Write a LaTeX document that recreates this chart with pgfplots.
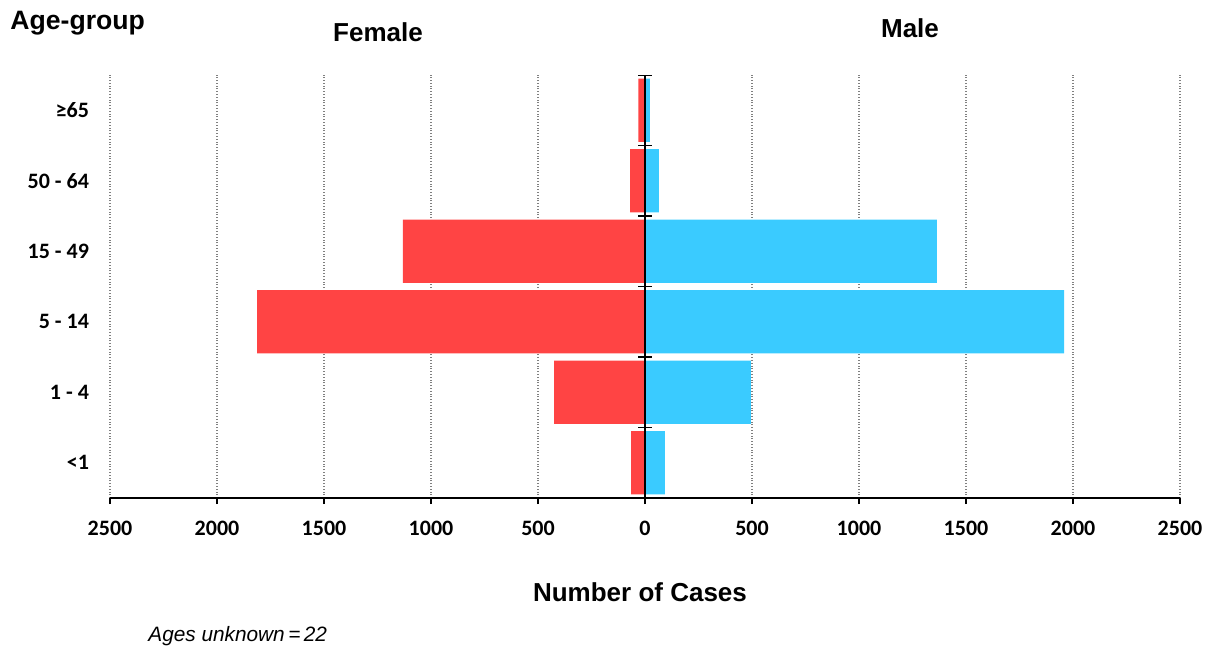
\documentclass[border=0pt]{standalone}
\usepackage{pgfplots}
\usepackage{pgfplotstable}
\pgfplotsset{compat=1.18}
\usepackage{fontspec}
\setmainfont{Liberation Sans}
\newfontfamily\calibri{Carlito}

\definecolor{femred}{RGB}{255,68,68}
\definecolor{maleblue}{RGB}{58,203,255}

% age group index: 0 = <1 ... 5 = >=65
\pgfplotstableread{
grp female male
0   65    93
1   425   495
2   1813  1958
3   1132  1364
4   70    65
5   31    23
}\cases

\begin{document}
\begin{tikzpicture}
\begin{axis}[
  at={(55pt,75pt)}, anchor=south west,
  scale only axis,
  width=535pt, height=211.5pt,
  xmin=-2500, xmax=2500,
  ymin=-0.5, ymax=5.5,
  axis x line*=bottom,
  axis y line*=left,
  y axis line style={draw=none},
  x axis line style={line width=1pt, -},
  xtick={-2500,-2000,-1500,-1000,-500,500,1000,1500,2000,2500},
  xticklabels={2500,2000,1500,1000,500,500,1000,1500,2000,2500},
  extra x ticks={0},
  extra x tick labels={0},
  tick align=outside,
  major tick length=3pt,
  x tick style={black, line width=0.8pt},
  ytick={0,...,5},
  yticklabels={{<1},{1 - 4},{5 - 14},{15 - 49},{50 - 64},{≥65}},
  y tick style={draw=none},
  ymajorgrids=false,
  xmajorgrids=true,
  major grid style={densely dotted, gray, line width=0.6pt},
  tick label style={font=\calibri\bfseries\fontsize{11}{13}\selectfont},
  yticklabel style={xshift=-4pt},
  xticklabel style={yshift=-5pt},
  xbar, bar shift=0pt, bar width=0.9,
]
\addplot[fill=femred, draw=none] table[x expr=-\thisrow{female}, y=grp] {\cases};
\addplot[fill=maleblue, draw=none] table[x=male, y=grp] {\cases};
\draw[black, line width=1pt] (axis cs:0,-0.5) -- (axis cs:0,5.5);
\pgfplotsinvokeforeach{-0.5,0.5,1.5,2.5,3.5,4.5,5.5}{
  \draw[black, line width=0.8pt] ([xshift=-3.5pt]axis cs:0,#1) -- ([xshift=3.5pt]axis cs:0,#1);
}
\end{axis}
\begin{scope}[x=0.5pt, y=-0.5pt, yshift=324pt]
  \node[anchor=base west, inner sep=0pt, font=\bfseries\fontsize{13.3}{15}\selectfont] at (10,30) {Age-group};
  \node[anchor=base, font=\bfseries\fontsize{13}{15}\selectfont] at (378,42) {Female};
  \node[anchor=base, font=\bfseries\fontsize{13}{15}\selectfont] at (910,38) {Male};
  \node[anchor=base, font=\bfseries\fontsize{13}{15}\selectfont] at (640,601) {Number of Cases};
  \node[anchor=base west, font=\itshape\fontsize{10.4}{12}\selectfont, inner sep=0pt] at (148,641) {Ages unknown\,=\,22};
\end{scope}
\pgfresetboundingbox
\path (0,0) rectangle (606.5pt,324pt);
\end{tikzpicture}
\end{document}
